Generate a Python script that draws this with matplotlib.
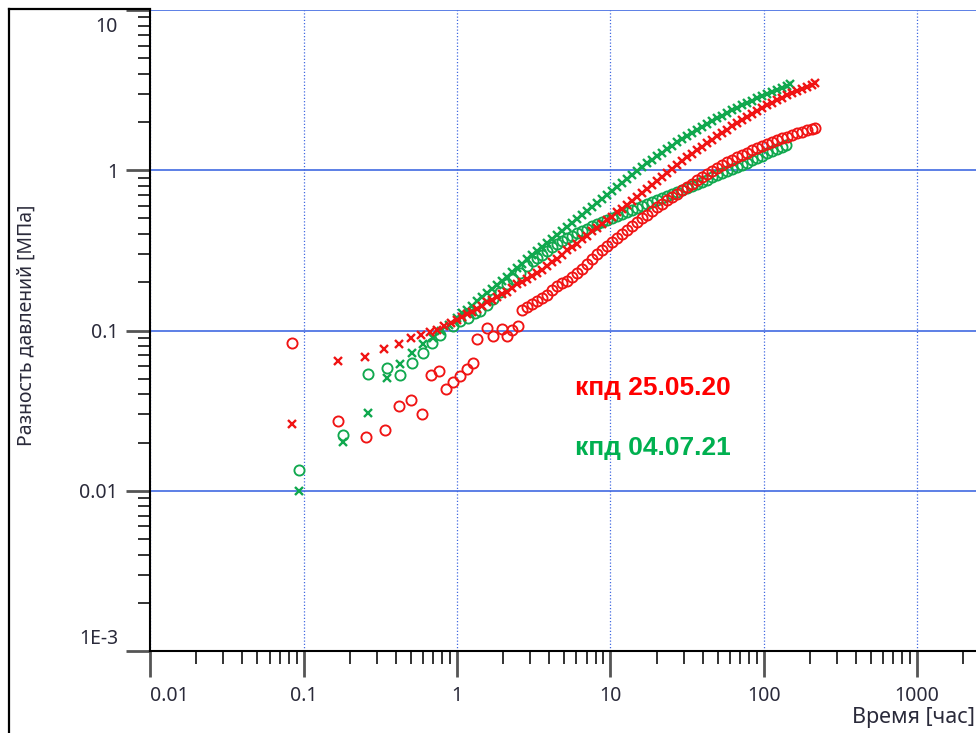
import numpy as np
import matplotlib.pyplot as plt
from matplotlib.lines import Line2D
from matplotlib.ticker import FixedLocator, LogLocator, NullFormatter
from matplotlib.transforms import ScaledTranslation

# моменты времени [час], в которых снимались значения с плотной части кривых
t_dense = [1.000, 1.078, 1.162, 1.252, 1.350, 1.455, 1.569, 1.691, 1.823, 1.965,
           2.118, 2.283, 2.461, 2.653, 2.860, 3.083, 3.323, 3.582, 3.861, 4.162,
           4.486, 4.836, 5.213, 5.619, 6.057, 6.529, 7.038, 7.587, 8.178, 8.816,
           9.504, 10.24, 11.04, 11.90, 12.83, 13.83, 14.91, 16.07, 17.32, 18.67,
           20.13, 21.70, 23.39, 25.21, 27.18, 29.30, 31.58, 34.04, 36.70, 39.55,
           42.64, 45.96, 49.54, 53.41, 57.57, 62.05, 66.89, 72.11, 77.73, 83.79,
           90.31, 97.34, 104.9, 113.1, 121.9, 131.4, 141.7, 152.7, 164.6, 177.4,
           191.2, 206.2]

#%% кпд 25.05.20 : разность давлений (x) и производная (o)
red_x_t = [0.084, 0.168, 0.252, 0.336, 0.419, 0.50, 0.582, 0.667, 0.741, 0.823, 0.914] + t_dense + [216]
red_x_dp = [0.026, 0.0645, 0.0688, 0.077, 0.0818, 0.090, 0.094, 0.0985, 0.101, 0.106, 0.1106,
            0.117, 0.122, 0.126, 0.131, 0.137, 0.143, 0.150, 0.156, 0.161, 0.168,
            0.175, 0.183, 0.194, 0.202, 0.211, 0.220, 0.230, 0.240, 0.254, 0.266,
            0.281, 0.298, 0.316, 0.330, 0.349, 0.370, 0.391, 0.415, 0.439, 0.465,
            0.486, 0.514, 0.545, 0.577, 0.611, 0.647, 0.685, 0.726, 0.769, 0.814,
            0.862, 0.913, 0.967, 1.025, 1.085, 1.150, 1.217, 1.271, 1.346, 1.405,
            1.489, 1.554, 1.646, 1.719, 1.794, 1.900, 1.984, 2.071, 2.163, 2.258,
            2.358, 2.461, 2.570, 2.645, 2.761, 2.842, 2.967, 3.053, 3.142, 3.234,
            3.328, 3.425,
            3.525]

red_o_t = [0.084, 0.168, 0.255, 0.34, 0.419, 0.50, 0.59, 0.677, 0.763, 0.85, 0.94, 1.046, 1.16, 1.27,
           1.35, 1.57, 1.72, 1.96, 2.12, 2.28, 2.50] + t_dense[13:] + [216]
red_o_dp = [0.083, 0.0272, 0.0218, 0.0238, 0.034, 0.0366, 0.030, 0.053, 0.0555, 0.043, 0.0475, 0.0517, 0.0571, 0.063,
            0.088, 0.104, 0.0918, 0.1015, 0.092, 0.101, 0.106,
            0.1333, 0.1392, 0.1453, 0.1517, 0.1584, 0.1677, 0.1777,
            0.1882, 0.1965, 0.2050, 0.2172, 0.2301, 0.2437, 0.2618, 0.2813, 0.3022, 0.3201,
            0.3391, 0.3591, 0.3803, 0.4028, 0.4266, 0.4518, 0.4786, 0.5069, 0.5291, 0.5604,
            0.5935, 0.6196, 0.6564, 0.6853, 0.7155, 0.7578, 0.7912, 0.8260, 0.8748, 0.9134,
            0.9536, 0.9957, 1.0395, 1.0853, 1.1331, 1.166, 1.2174, 1.2529, 1.289, 1.3461,
            1.3854, 1.426, 1.4673, 1.510, 1.5541, 1.5995, 1.6226, 1.6699, 1.7185, 1.7434,
            1.7942, 1.8200,
            1.8466]

#%% кпд 04.07.21
green_x_t = [0.094, 0.18, 0.264, 0.35, 0.425, 0.51, 0.603, 0.70, 0.787, 0.887] + t_dense[:67] + [148]
green_x_dp = [0.010, 0.0201, 0.0307, 0.0502, 0.0614, 0.072, 0.0818, 0.0904, 0.100, 0.109,
              0.1205, 0.1277, 0.1352, 0.1432, 0.1517, 0.1607, 0.1702, 0.1803, 0.1936, 0.2050,
              0.2172, 0.2334, 0.2472, 0.2618, 0.2813, 0.2979, 0.3156, 0.3342, 0.3540, 0.3749,
              0.3971, 0.4205, 0.4454, 0.4717, 0.4996, 0.5291, 0.5604, 0.5935, 0.6286, 0.6659,
              0.7053, 0.7470, 0.7912, 0.8380, 0.8875, 0.9400, 0.9957, 1.0546, 1.117, 1.166,
              1.235, 1.289, 1.366, 1.426, 1.510, 1.577, 1.646, 1.719, 1.794, 1.873,
              1.956, 2.042, 2.132, 2.194, 2.291, 2.392, 2.461, 2.570, 2.645, 2.722,
              2.842, 2.924, 3.010, 3.097, 3.188, 3.281, 3.376,
              3.475]

green_o_t = [0.094, 0.18, 0.264, 0.348, 0.425, 0.51, 0.603, 0.684, 0.775, 0.941,
             1.046, 1.18, 1.31, 1.41, 1.57, 1.72, 1.91, 2.12, 2.32, 2.57, 2.86, 3.13] + t_dense[16:66] + [139]
green_o_dp = [0.0134, 0.0224, 0.0537, 0.0585, 0.0524, 0.063, 0.0726, 0.0838, 0.094, 0.106,
              0.114, 0.1205, 0.128, 0.133, 0.145, 0.158, 0.175, 0.194, 0.211, 0.230, 0.254, 0.273,
              0.2854, 0.2979, 0.3156, 0.3342,
              0.3489, 0.3643, 0.3803, 0.3914, 0.4086, 0.4205, 0.4328, 0.4518, 0.4650, 0.4786,
              0.4925, 0.5069, 0.5217, 0.5369, 0.5525, 0.5686, 0.5852, 0.6023, 0.6196, 0.6378,
              0.6564, 0.6755, 0.6952, 0.7155, 0.7363, 0.7578, 0.7800, 0.8027, 0.8260, 0.8501,
              0.8748, 0.9134, 0.9400, 0.9674, 0.9957, 1.0247, 1.0546, 1.0853, 1.117, 1.166,
              1.2001, 1.235, 1.289, 1.327, 1.366, 1.405,
              1.446]

x_ticks = [0.01, 0.1, 1, 10, 100, 1000]
x_tick_labels = ['0.01', '0.1', '1', '10', '100', '1000']
y_ticks = [0.001, 0.01, 0.1, 1, 10]
y_tick_labels = ['1E-3', '0.01', '0.1', '1', '10']

RED = '#F01414'
GREEN = '#10A84E'
BLUE = '#4169E1'
TXT = '#2A2A3A'
FONT = 'Noto Sans'

#%%
fig = plt.figure(figsize=(9.76, 7.33), dpi=100)
ax = fig.add_axes([150/976, 1-651/733, 1-150/976, 641/733])

ax.set_xscale('log')
ax.set_yscale('log')
ax.set_xlim(0.00998, 2417)
ax.set_ylim(0.001, 10)

for g in [0.01, 0.1, 1, 10]:
    ax.axhline(g, color=BLUE, lw=1.2, zorder=1)
for g in [0.01, 0.1, 1, 10, 100, 1000]:
    ax.axvline(g, color=BLUE, lw=0.9, ls=(0, (1, 1.6)), zorder=1)

mk_o = dict(ls='none', marker='o', mfc='none', ms=7.3, mew=1.35, zorder=3)
mk_x = dict(ls='none', marker='x', ms=5.4, mew=1.7, zorder=3)
ax.plot(green_o_t, green_o_dp, color=GREEN, **mk_o)
ax.plot(green_x_t, green_x_dp, color=GREEN, **mk_x)
ax.plot(red_x_t, red_x_dp, color=RED, **mk_x)
ax.plot(red_o_t, red_o_dp, color=RED, **mk_o)

for s in ['top', 'right']:
    ax.spines[s].set_visible(False)
for s in ['left', 'bottom']:
    ax.spines[s].set_linewidth(1.5)
    ax.spines[s].set_color('black')

ax.xaxis.set_major_locator(FixedLocator(x_ticks))
ax.set_xticklabels(x_tick_labels)
ax.yaxis.set_major_locator(FixedLocator(y_ticks))
ax.set_yticklabels(y_tick_labels)
ax.xaxis.set_minor_locator(LogLocator(base=10, subs=np.arange(2, 10)))
ax.yaxis.set_minor_locator(LogLocator(base=10, subs=np.arange(2, 10)))
ax.xaxis.set_minor_formatter(NullFormatter())
ax.yaxis.set_minor_formatter(NullFormatter())

ax.tick_params(which='major', width=2, color='#555555', labelsize=14, labelcolor=TXT, pad=6)
ax.tick_params(axis='x', which='major', length=19)
ax.tick_params(axis='y', which='major', length=17)
ax.tick_params(which='minor', length=9, width=1.3, color='#222222')
for lab in ax.get_xticklabels() + ax.get_yticklabels():
    lab.set_family(FONT)
ax.get_xticklabels()[0].set_horizontalalignment('left')
# крайние подписи оси Y сдвинуты внутрь, как в оригинале
ylabs = ax.get_yticklabels()
ylabs[0].set_transform(ylabs[0].get_transform() + ScaledTranslation(0, 0.15, fig.dpi_scale_trans))
ylabs[-1].set_transform(ylabs[-1].get_transform() + ScaledTranslation(0, -0.15, fig.dpi_scale_trans))

fig.text(975/976, 1-718/733, 'Время [час]', ha='right', va='center', fontsize=15.5, color=TXT, family=FONT)
fig.text(27/976, 1-325/733, 'Разность давлений [МПа]', ha='center', va='center', rotation=90,
         fontsize=14, color=TXT, family=FONT)

ax.text(0.5145, 0.410, 'кпд 25.05.20', transform=ax.transAxes, ha='left', va='center',
        fontsize=19, fontweight='bold', color='#FF0000', family='Liberation Sans')
ax.text(0.5145, 0.317, 'кпд 04.07.21', transform=ax.transAxes, ha='left', va='center',
        fontsize=19, fontweight='bold', color='#00B050', family='Liberation Sans')

# рамка
fig.add_artist(Line2D([9/976, 9/976], [0, 1-9/733], color='black', lw=1.6))
fig.add_artist(Line2D([9/976, 150/976], [1-9/733, 1-9/733], color='black', lw=1.6))

fig.savefig('out.png', dpi=100)
